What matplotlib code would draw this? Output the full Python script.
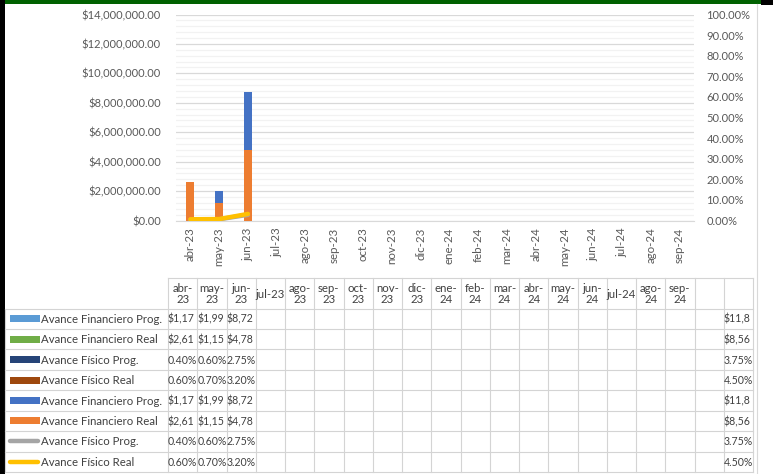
import numpy as np
import matplotlib
matplotlib.use("Agg")
import matplotlib.pyplot as plt
from matplotlib.patches import Rectangle
from matplotlib.ticker import FuncFormatter, MultipleLocator

plt.rcParams['font.family'] = ['Lato', 'DejaVu Sans']

meses = ['abr-23', 'may-23', 'jun-23', 'jul-23', 'ago-23', 'sep-23', 'oct-23', 'nov-23', 'dic-23',
         'ene-24', 'feb-24', 'mar-24', 'abr-24', 'may-24', 'jun-24', 'jul-24', 'ago-24', 'sep-24']
fin_prog = [1173250.0, 1990400.0, 8723100.0]
fin_real = [2615000.0, 1157000.0, 4789000.0]
fis_prog = [0.0040, 0.0060, 0.0275]
fis_real = [0.0060, 0.0070, 0.0320]

# (name, values, color, kind, money?)
series = [
    ('Avance Financiero Prog.', fin_prog, '#5B9BD5', 'bar', True),
    ('Avance Financiero Real', fin_real, '#70AD47', 'bar', True),
    ('Avance Físico Prog.', fis_prog, '#264478', 'bar', False),
    ('Avance Físico Real', fis_real, '#9E480E', 'bar', False),
    ('Avance Financiero Prog.', fin_prog, '#4472C4', 'bar', True),
    ('Avance Financiero Real', fin_real, '#ED7D31', 'bar', True),
    ('Avance Físico Prog.', fis_prog, '#A5A5A5', 'line', False),
    ('Avance Físico Real', fis_real, '#FFC000', 'line', False),
]

W, H = 773, 474
fig = plt.figure(figsize=(W / 100, H / 100), dpi=100)
fig.patch.set_facecolor('white')

# plot area in pixels
px_l, px_r, px_t, px_b = 176, 694, 14.5, 220.5
ax = fig.add_axes([px_l / W, 1 - px_b / H, (px_r - px_l) / W, (px_b - px_t) / H])
ax2 = ax.twinx()
n = len(meses)
x = np.arange(n)
bw = 0.28

ax.set_xlim(-0.5, n - 0.5)
ax.set_ylim(0, 14e6)
ax2.set_ylim(0, 1.0)

# money bars overlap fully; later series hide the earlier ones
for name, vals, col, kind, money in series:
    if kind == 'bar' and money:
        ax.bar(x[:len(vals)], vals, width=bw, color=col, zorder=3)
    elif kind == 'line':
        ax2.plot(x[:len(vals)], vals, color=col, lw=3.2, solid_capstyle='round', zorder=4)

ax.yaxis.set_major_locator(MultipleLocator(2e6))
ax.yaxis.set_minor_locator(MultipleLocator(0.4e6))
ax.yaxis.set_major_formatter(FuncFormatter(lambda v, p: '${:,.2f}'.format(v)))
ax2.yaxis.set_major_locator(MultipleLocator(0.1))
ax2.yaxis.set_major_formatter(FuncFormatter(lambda v, p: '{:.2f}%'.format(v * 100)))
ax.grid(which='major', axis='y', color='#D9D9D9', lw=0.9, zorder=0)
ax.grid(which='minor', axis='y', color='#F2F2F2', lw=0.9, zorder=0)
ax.set_axisbelow(True)
for a in (ax, ax2):
    for s in a.spines.values():
        s.set_visible(False)
ax.spines['bottom'].set_visible(True)
ax.spines['bottom'].set_color('#D9D9D9')
ax.tick_params(axis='y', which='both', length=0, pad=11, labelsize=8, labelcolor='#595959')
ax2.tick_params(axis='y', length=0, pad=9, labelsize=8, labelcolor='#595959')
ax.set_xticks(x)
ax.set_xticklabels(meses, rotation=90, fontsize=8.3, color='#595959')
ax.tick_params(axis='x', length=0, pad=5)
ax.patch.set_visible(False)

# overlay in pixel coordinates for the data table and frame
ov = fig.add_axes([0, 0, 1, 1], zorder=-1)
ov.set_xlim(0, W)
ov.set_ylim(H, 0)
ov.axis('off')

ov.add_patch(Rectangle((4, 0), 758, 3.5, color='#006100', lw=0))
ov.add_patch(Rectangle((0, 0), 4.5, H, color='black', lw=0))
ov.add_patch(Rectangle((761, 0), 12, 5, color='black', lw=0))
ov.plot([757, 757], [3.5, H], color='#D9D9D9', lw=0.8)

gc = '#D4D4D4'
c0, cw = 168.0, 29.25
ncol = n + 2
head_t, head_b = 278.0, 308.5
rh = 20.45
rows_b = head_b + rh * len(series)

# grid of the data table
ov.plot([c0, c0 + cw * ncol], [head_t, head_t], color=gc, lw=0.8)
for k in range(ncol + 1):
    ov.plot([c0 + cw * k, c0 + cw * k], [head_t, rows_b], color=gc, lw=0.8)
ov.plot([5, 5], [head_b, rows_b], color=gc, lw=0.8)
for r in range(len(series) + 1):
    y = head_b + rh * r
    ov.plot([5, c0 + cw * ncol], [y, y], color=gc, lw=0.8)

tc = '#404040'
fs = 8.2
for k, m in enumerate(meses):
    lab = m if m.startswith('jul') else m.replace('-', '-\n')
    ov.text(c0 + cw * (k + 0.5), (head_t + head_b) / 2 + 1, lab, ha='center', va='center',
            fontsize=fs, color=tc, linespacing=1.0)

def fmt(v, money):
    return '${:,.2f}'.format(v) if money else '{:.2f}%'.format(v * 100)

renderer = fig.canvas.get_renderer()

for r, (name, vals, col, kind, money) in enumerate(series):
    yc = head_b + rh * (r + 0.5)
    if kind == 'bar':
        ov.add_patch(Rectangle((10, yc - 3.5), 30, 7, color=col, lw=0))
    else:
        ov.plot([10, 38], [yc, yc], color=col, lw=3.2, solid_capstyle='round')
    ov.text(41, yc + 0.5, name, ha='left', va='center', fontsize=fs, color=tc)
    cells = list(vals) + [None] * (n - len(vals)) + [None, sum(vals)]
    for k, v in enumerate(cells):
        if v is None:
            continue
        x0 = c0 + cw * k
        s = fmt(v, money)
        t = ov.text(x0, yc + 0.5, s, ha='left', va='center', fontsize=7.6, color=tc)
        # the cell only shows what fits in its width, like the spreadsheet does
        while len(s) > 1 and t.get_window_extent(renderer).width > cw + 1.5:
            s = s[:-1]
            t.set_text(s)

fig.savefig('out.png', dpi=100, facecolor='white')
